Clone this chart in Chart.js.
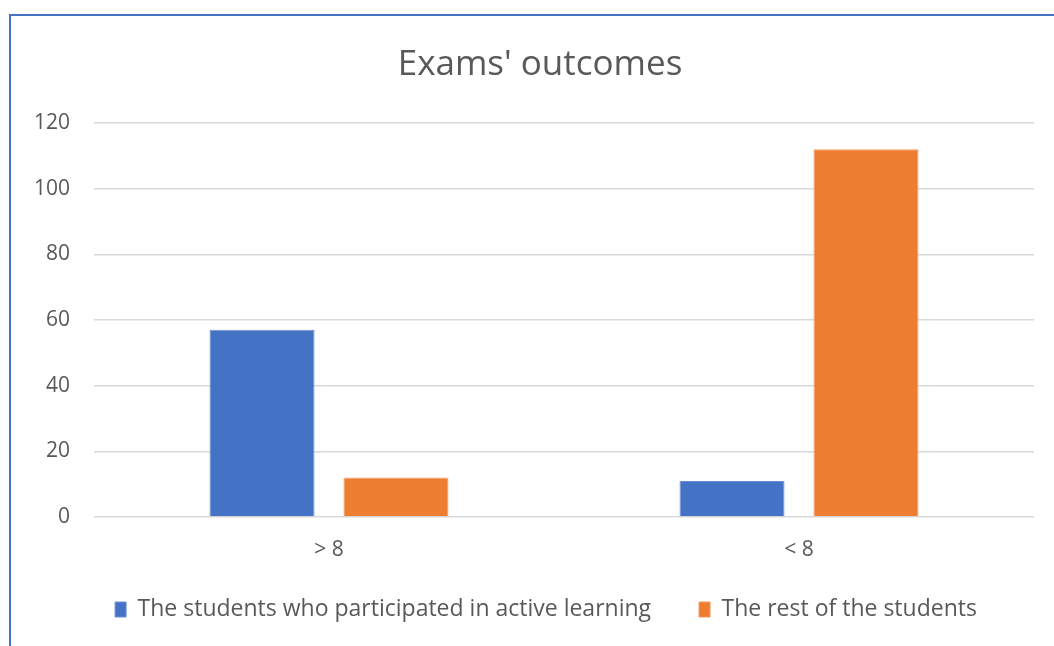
<!DOCTYPE html>
<html>
<head>
<meta charset="utf-8">
<title>Exams' outcomes</title>
<script src="https://cdn.jsdelivr.net/npm/chart.js@4"></script>
<style>
    html, body { margin: 0; padding: 0; background: #fff; }
    .wrap { position: relative; width: 1054px; height: 646px; }
    .frame {
        position: absolute; left: 9px; top: 14px; right: 0; bottom: 0;
        border-top: 2px solid #4472c4; border-left: 2px solid #4472c4;
        pointer-events: none;
    }
    canvas { position: absolute; left: 0; top: 0; }
</style>
</head>
<body>
<div class="wrap">
    <canvas id="examChart" width="1054" height="646"></canvas>
    <div class="frame"></div>
</div>
<script>
const categories = ['> 8', '< 8'];
const activeLearning = [57, 11];
const restOfStudents = [12, 112];
const yTicks = [0, 20, 40, 60, 80, 100, 120];

const textColor = '#595959';
const fontFamily = "'Open Sans', 'Noto Sans', sans-serif";

// nudge title and legend a little, the plot area keeps its place
const boxShift = {
    id: 'boxShift',
    afterLayout(chart) {
        const t = chart.titleBlock, l = chart.legend;
        if (t) { t.left += 23; t.right += 23; }
        if (l) {
            l.left += 29; l.right += 29;
            l.top -= 12.6; l.bottom -= 12.6;
        }
    }
};

document.addEventListener('DOMContentLoaded', function() {
    const ctx = document.getElementById('examChart').getContext('2d');
    new Chart(ctx, {
        type: 'bar',
        data: {
            labels: categories,
            datasets: [{
                label: 'The students who participated in active learning',
                data: activeLearning,
                backgroundColor: '#4472c4',
                borderColor: '#6d8fd0',
                borderWidth: 1
            }, {
                label: 'The rest of the students',
                data: restOfStudents,
                backgroundColor: '#ed7d31',
                borderColor: '#f29b5f',
                borderWidth: 1
            }]
        },
        plugins: [boxShift],
        options: {
            responsive: false,
            animation: false,
            categoryPercentage: 0.57,
            barPercentage: 0.784,
            layout: {
                padding: { left: 0, right: 20, top: 0, bottom: 2.4 }
            },
            plugins: {
                title: {
                    display: true,
                    text: "Exams' outcomes",
                    color: textColor,
                    font: { family: fontFamily, size: 35, weight: 'normal', lineHeight: 1.2 },
                    padding: { top: 44, bottom: 37 }
                },
                legend: {
                    position: 'bottom',
                    labels: {
                        color: textColor,
                        font: { family: fontFamily, size: 23 },
                        boxWidth: 11,
                        boxHeight: 15,
                        padding: 48
                    }
                },
                tooltip: { enabled: false }
            },
            scales: {
                x: {
                    grid: { display: false, tickLength: 20.4 },
                    border: { display: false },
                    ticks: {
                        color: textColor,
                        font: { family: fontFamily, size: 21 },
                        padding: 0
                    }
                },
                y: {
                    min: 0,
                    max: 120,
                    border: { display: false },
                    grid: {
                        color: '#d9d9d9',
                        lineWidth: 1.5,
                        drawTicks: false
                    },
                    ticks: {
                        color: textColor,
                        font: { family: fontFamily, size: 21 },
                        padding: 24,
                        stepSize: 20
                    },
                    afterBuildTicks: function(scale) {
                        scale.ticks = yTicks.map(v => ({ value: v }));
                    },
                    afterFit: function(scale) {
                        scale.width = 94;
                    }
                }
            }
        }
    });
});
</script>
</body>
</html>
